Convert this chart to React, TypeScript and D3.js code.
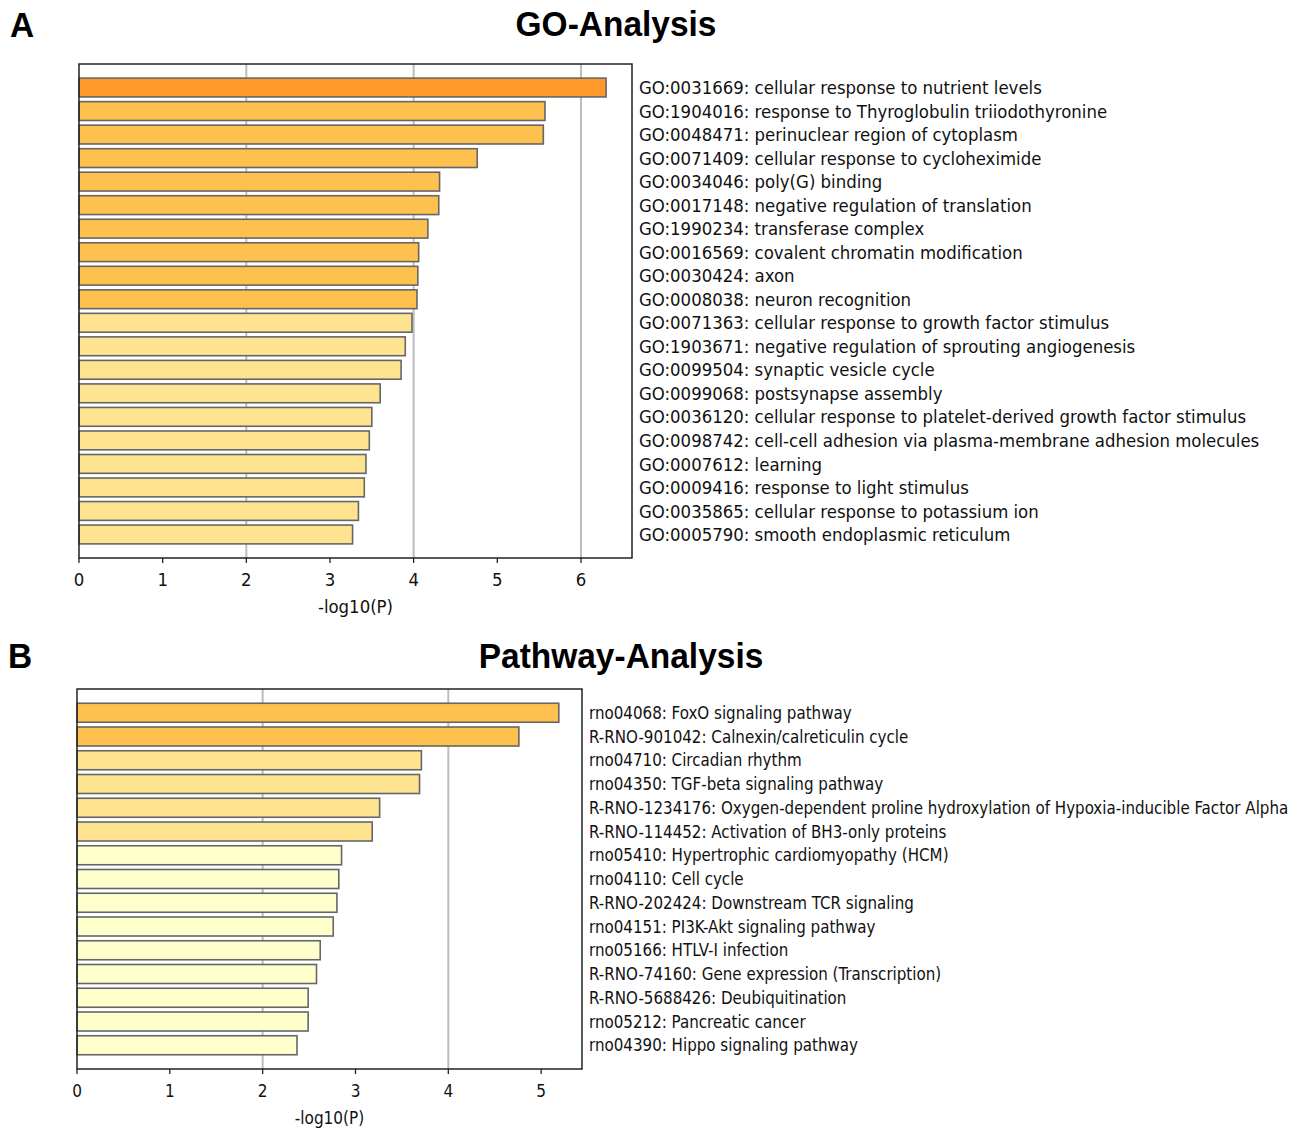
import React from "react";
import * as d3 from "d3";

const goTerms = [
  "GO:0031669: cellular response to nutrient levels",
  "GO:1904016: response to Thyroglobulin triiodothyronine",
  "GO:0048471: perinuclear region of cytoplasm",
  "GO:0071409: cellular response to cycloheximide",
  "GO:0034046: poly(G) binding",
  "GO:0017148: negative regulation of translation",
  "GO:1990234: transferase complex",
  "GO:0016569: covalent chromatin modification",
  "GO:0030424: axon",
  "GO:0008038: neuron recognition",
  "GO:0071363: cellular response to growth factor stimulus",
  "GO:1903671: negative regulation of sprouting angiogenesis",
  "GO:0099504: synaptic vesicle cycle",
  "GO:0099068: postsynapse assembly",
  "GO:0036120: cellular response to platelet-derived growth factor stimulus",
  "GO:0098742: cell-cell adhesion via plasma-membrane adhesion molecules",
  "GO:0007612: learning",
  "GO:0009416: response to light stimulus",
  "GO:0035865: cellular response to potassium ion",
  "GO:0005790: smooth endoplasmic reticulum",
];
const goValues = [6.3, 5.57, 5.55, 4.76, 4.31, 4.3, 4.17, 4.06, 4.05, 4.04, 3.98, 3.9, 3.85, 3.6, 3.5, 3.47, 3.43, 3.41, 3.34, 3.27];
const goLevels = [0, 1, 1, 1, 1, 1, 1, 1, 1, 1, 2, 2, 2, 2, 2, 2, 2, 2, 2, 2];

const pathTerms = [
  "rno04068: FoxO signaling pathway",
  "R-RNO-901042: Calnexin/calreticulin cycle",
  "rno04710: Circadian rhythm",
  "rno04350: TGF-beta signaling pathway",
  "R-RNO-1234176: Oxygen-dependent proline hydroxylation of Hypoxia-inducible Factor Alpha",
  "R-RNO-114452: Activation of BH3-only proteins",
  "rno05410: Hypertrophic cardiomyopathy (HCM)",
  "rno04110: Cell cycle",
  "R-RNO-202424: Downstream TCR signaling",
  "rno04151: PI3K-Akt signaling pathway",
  "rno05166: HTLV-I infection",
  "R-RNO-74160: Gene expression (Transcription)",
  "R-RNO-5688426: Deubiquitination",
  "rno05212: Pancreatic cancer",
  "rno04390: Hippo signaling pathway",
];
const pathValues = [5.19, 4.76, 3.71, 3.69, 3.26, 3.18, 2.85, 2.82, 2.8, 2.76, 2.62, 2.58, 2.49, 2.49, 2.37];
const pathLevels = [1, 1, 2, 2, 2, 2, 3, 3, 3, 3, 3, 3, 3, 3, 3];

const goTicks = [0, 1, 2, 3, 4, 5, 6];
const pathTicks = [0, 1, 2, 3, 4, 5];

const levelColors = ["#FF9A2A", "#FEC04F", "#FEE391", "#FFFFCC"];

const labelFont = "'DejaVu Sans Condensed', 'DejaVu Sans', sans-serif";
const titleFont = "'Liberation Sans', Arial, sans-serif";

type PanelProps = {
  terms: string[];
  values: number[];
  levels: number[];
  ticks: number[];
  xMax: number;
  left: number;
  right: number;
  top: number;
  bottom: number;
  grid: number[];
  fs: number;
  labelFs: number;
};

function Panel({ terms, values, levels, ticks, xMax, left, right, top, bottom, grid, fs, labelFs }: PanelProps) {
  const x = d3.scaleLinear().domain([0, xMax]).range([left, right]);
  const y = d3.scalePoint<string>().domain(terms).range([top, bottom]).padding(1);
  const step = y.step();
  const bh = step * 0.8;
  return (
    <g>
      {grid.map((g) => (
        <line key={"g" + g} x1={x(g)} x2={x(g)} y1={top} y2={bottom} stroke="#bdbdbd" strokeWidth={2} />
      ))}
      {terms.map((t, i) => (
        <rect
          key={t}
          x={x(0)}
          y={(y(t) as number) - bh / 2}
          width={x(values[i]) - x(0)}
          height={bh}
          fill={levelColors[levels[i]]}
          stroke="#666666"
          strokeWidth={1.6}
        />
      ))}
      <rect x={left} y={top} width={right - left} height={bottom - top} fill="none" stroke="#222" strokeWidth={1.5} />
      {ticks.map((tk) => (
        <g key={"t" + tk}>
          <line x1={x(tk)} x2={x(tk)} y1={bottom} y2={bottom + 5} stroke="#222" strokeWidth={1.3} />
          <text x={x(tk)} y={bottom + 28} textAnchor="middle" fontFamily={labelFont} fontSize={fs} fill="#111">
            {tk}
          </text>
        </g>
      ))}
      <text x={(left + right) / 2} y={bottom + 55} textAnchor="middle" fontFamily={labelFont} fontSize={fs} fill="#111">
        -log10(P)
      </text>
      {terms.map((t) => (
        <text
          key={"l" + t}
          x={right + 7}
          y={y(t) as number}
          dy="0.36em"
          fontFamily={labelFont}
          fontSize={labelFs}
          fill="#111"
        >
          {t}
        </text>
      ))}
    </g>
  );
}

function Title({ x, y, text, anchor }: { x: number; y: number; text: string; anchor: "start" | "middle" }) {
  return (
    <g transform={`translate(${x},${y}) scale(0.93,1)`}>
      <text x={0} y={0} textAnchor={anchor} fontFamily={titleFont} fontWeight="bold" fontSize={36} fill="#000">
        {text}
      </text>
    </g>
  );
}

export default function App() {
  return (
    <svg width={1306} height={1130} style={{ position: "absolute", left: 0, top: 0 }}>
      <rect width={1306} height={1130} fill="#fff" />
      <Title x={10} y={37} text="A" anchor="start" />
      <Title x={616} y={36} text="GO-Analysis" anchor="middle" />
      <Title x={8} y={668} text="B" anchor="start" />
      <Title x={621} y={668} text="Pathway-Analysis" anchor="middle" />
      <Panel terms={goTerms} values={goValues} levels={goLevels} ticks={goTicks} xMax={6.61} left={79} right={632} top={64} bottom={558} grid={[2, 4, 6]} fs={18.4} labelFs={18.4} />
      <Panel terms={pathTerms} values={pathValues} levels={pathLevels} ticks={pathTicks} xMax={5.44} left={77} right={582} top={689} bottom={1069} grid={[2, 4]} fs={17} labelFs={16.8} />
    </svg>
  );
}
